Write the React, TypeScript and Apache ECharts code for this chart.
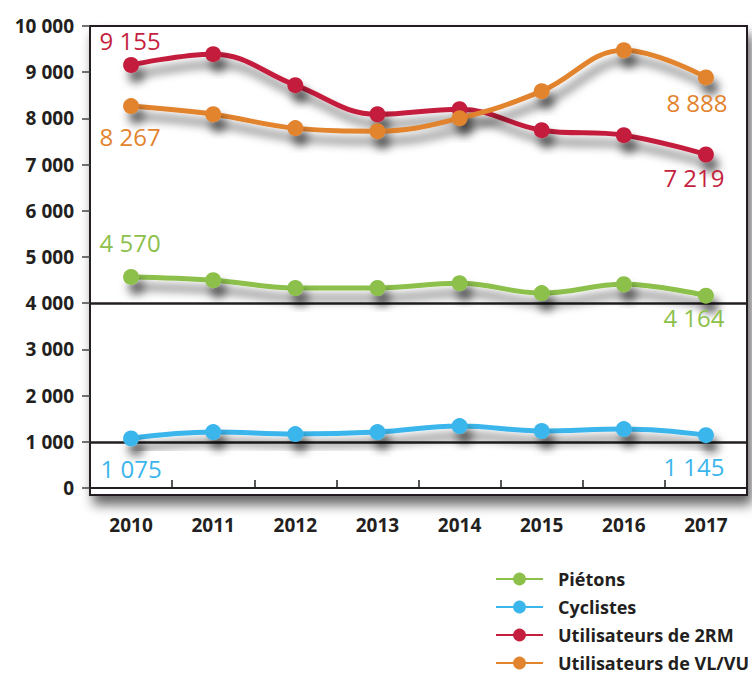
import React, { useEffect, useRef } from "react";
import * as echarts from "echarts";

const years = ["2010", "2011", "2012", "2013", "2014", "2015", "2016", "2017"];
const pietons = [4570, 4500, 4330, 4330, 4435, 4220, 4410, 4164];
const cyclistes = [1075, 1212, 1168, 1212, 1341, 1235, 1276, 1145];
const deuxRM = [9155, 9390, 8720, 8090, 8200, 7745, 7637, 7219];
const vlvu = [8267, 8090, 7790, 7724, 8005, 8590, 9476, 8888];
const seriesNames = ["Piétons", "Cyclistes", "Utilisateurs de 2RM", "Utilisateurs de VL/VU"];
const seriesColors = ["#8cc04b", "#3bb6ec", "#c41f3e", "#e2832d"];
const yTicks = [0, 1000, 2000, 3000, 4000, 5000, 6000, 7000, 8000, 9000, 10000];

// label offsets (first, last) per series
const labelOffsets: [number, number][][] = [
  [[-1, -34], [-12, 22]],
  [[0, 30], [-12, 31]],
  [[-1, -25], [-12, 23]],
  [[-1, 30], [-9, 25]],
];

const fmt = (v: number) => String(v).replace(/\B(?=(\d{3})+(?!\d))/g, " ");
const FONT = "'Open Sans', 'Noto Sans', sans-serif";
const DARK = "#231f20";

export default function App() {
  const ref = useRef<HTMLDivElement>(null);
  useEffect(() => {
    if (!ref.current) return;
    const chart = echarts.init(ref.current, null, { renderer: "svg" });
    const all = [pietons, cyclistes, deuxRM, vlvu];
    const series = all.map((vals, si) => ({
      name: seriesNames[si],
      type: "line",
      smooth: 0.4,
      symbol: "circle",
      symbolSize: 16,
      color: seriesColors[si],
      lineStyle: {
        width: 5,
        color: seriesColors[si],
        shadowColor: "rgba(0,0,0,0.6)",
        shadowBlur: 10,
        shadowOffsetX: 5,
        shadowOffsetY: 10,
      },
      itemStyle: {
        color: seriesColors[si],
        shadowColor: "rgba(0,0,0,0.55)",
        shadowBlur: 10,
        shadowOffsetX: 5,
        shadowOffsetY: 10,
      },
      z: 3 + si,
      data: vals.map((v, i) => {
        const idx = i === 0 ? 0 : i === vals.length - 1 ? 1 : -1;
        if (idx < 0) return { value: v };
        return {
          value: v,
          label: {
            show: true,
            position: "inside",
            offset: labelOffsets[si][idx],
            formatter: (p: any) => fmt(p.value),
            color: seriesColors[si],
            fontSize: 24,
            fontFamily: FONT,
            fontWeight: 500,
          },
        };
      }),
      markLine:
        si === 0 || si === 1
          ? {
              silent: true,
              symbol: "none",
              label: { show: false },
              lineStyle: { color: DARK, width: 2.5, type: "solid" },
              data: [{ yAxis: si === 0 ? 4000 : 1000 }],
              z: 2,
            }
          : undefined,
    }));

    chart.setOption({
      animation: false,
      backgroundColor: "#ffffff",
      grid: {
        left: 90,
        right: 5,
        top: 26,
        bottom: 182,
        show: true,
        backgroundColor: "#ffffff",
        borderColor: DARK,
        borderWidth: 2,
        shadowColor: "rgba(0,0,0,0.6)",
        shadowBlur: 12,
        shadowOffsetX: 4,
        shadowOffsetY: 9,
      },
      legend: {
        orient: "vertical",
        left: 495,
        top: 570,
        padding: 0,
        itemWidth: 47,
        itemHeight: 16,
        itemGap: 10,
        data: seriesNames,
        textStyle: {
          fontFamily: FONT,
          fontSize: 18,
          lineHeight: 16,
          fontWeight: "bold",
          color: DARK,
          padding: [0, 0, 0, 10],
        },
      },
      xAxis: {
        type: "category",
        data: years,
        boundaryGap: true,
        axisLine: { show: true, lineStyle: { color: DARK, width: 2 } },
        axisTick: { show: true, inside: true, length: 8, lineStyle: { color: DARK, width: 1.5 } },
        axisLabel: {
          margin: 20,
          color: DARK,
          fontFamily: FONT,
          fontSize: 19,
          fontWeight: "bold",
        },
        splitLine: { show: false },
      },
      yAxis: {
        type: "value",
        min: -150,
        max: 10000,
        axisLine: { show: true, lineStyle: { color: DARK, width: 2 } },
        axisTick: {
          show: true,
          length: 8,
          customValues: yTicks,
          lineStyle: { color: "#444", width: 1.5 },
        },
        axisLabel: {
          customValues: yTicks,
          margin: 16,
          color: DARK,
          fontFamily: FONT,
          fontSize: 19,
          fontWeight: "bold",
          formatter: (v: number) => (v < 0 ? "" : fmt(v)),
        },
        splitLine: {
          show: true,
          lineStyle: {
            color: "#4a4a4a",
            width: 1.5,
            shadowColor: "rgba(0,0,0,0.25)",
            shadowBlur: 2,
            shadowOffsetY: 2,
          },
        },
      },
      series,
    });
    return () => chart.dispose();
  }, []);
  return (
    <div
      ref={ref}
      style={{ position: "fixed", left: 0, top: 0, width: 752, height: 677, background: "#fff" }}
    />
  );
}
